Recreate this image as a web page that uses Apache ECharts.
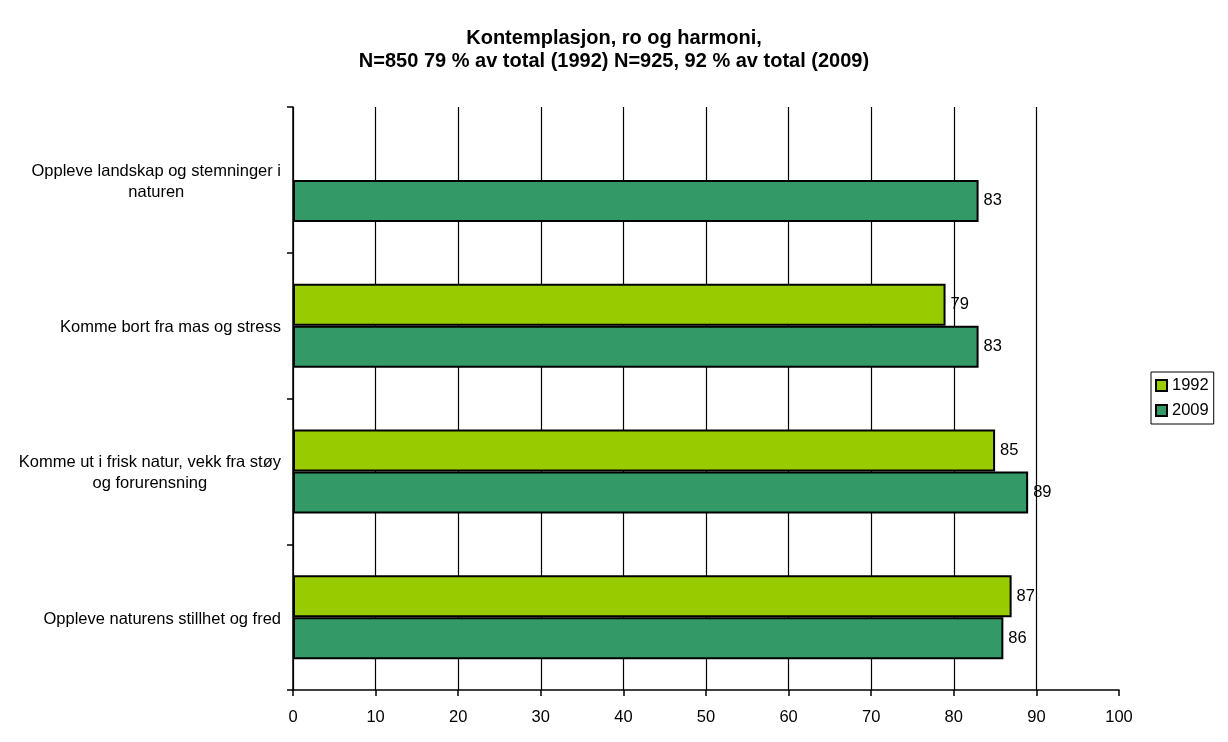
<!DOCTYPE html>
<html>
<head>
<meta charset="utf-8">
<script src="https://cdn.jsdelivr.net/npm/echarts@6/dist/echarts.min.js"></script>
<style>
html,body{margin:0;padding:0;background:#fff;}
#chart{width:1228px;height:742px;}
</style>
</head>
<body>
<div id="chart"></div>
<script>
const categories = [
  "Oppleve landskap og stemninger i\nnaturen",
  "Komme bort fra mas og stress",
  "Komme ut i frisk natur, vekk fra støy\nog forurensning",
  "Oppleve naturens stillhet og fred"
];
const values1992 = [null, 79, 85, 87];
const values2009 = [83, 83, 89, 86];
const seriesNames = ["1992", "2009"];
const xTicks = [0, 10, 20, 30, 40, 50, 60, 70, 80, 90, 100];

const chart = echarts.init(document.getElementById('chart'), null, {renderer: 'canvas'});
const font = 'Arial, "Liberation Sans", sans-serif';
const fs = 16.5;
const labelStyle = {show: true, position: 'right', distance: 5, color: '#000', fontSize: fs, fontFamily: font, padding: [3, 0, 0, 0]};

chart.setOption({
  animation: false,
  backgroundColor: '#fff',
  title: {
    text: "Kontemplasjon, ro og harmoni,\nN=850 79 % av total (1992) N=925, 92 % av total (2009)",
    left: 'center',
    top: 22,
    textStyle: {fontSize: 20, fontWeight: 'bold', color: '#000', fontFamily: font, lineHeight: 23}
  },
  legend: {
    orient: 'vertical',
    left: 1151,
    top: 372,
    data: seriesNames,
    itemWidth: 11,
    itemHeight: 11,
    itemGap: 8,
    borderColor: '#000',
    borderWidth: 1,
    borderRadius: 0,
    padding: [5, 5, 5, 4],
    textStyle: {fontSize: fs, color: '#000', fontFamily: font},
    icon: 'rect'
  },
  grid: {left: 293, right: 109, top: 107, bottom: 52, containLabel: false},
  xAxis: {
    type: 'value',
    min: xTicks[0],
    max: xTicks[xTicks.length - 1],
    interval: 10,
    axisLine: {show: true, lineStyle: {color: '#000', width: 1.5}},
    axisTick: {show: true, length: 6, lineStyle: {color: '#000', width: 1.5}},
    axisLabel: {fontSize: fs, color: '#000', fontFamily: font, margin: 19},
    splitLine: {show: true, showMaxLine: false, lineStyle: {color: '#000', width: 1.2}}
  },
  yAxis: {
    type: 'category',
    inverse: true,
    data: categories,
    axisLine: {show: true, lineStyle: {color: '#000', width: 1.5}},
    axisTick: {show: true, length: 6, lineStyle: {color: '#000', width: 1.5}},
    axisLabel: {
      fontSize: fs, color: '#000', fontFamily: font, margin: 12, align: 'right', lineHeight: 21,
      padding: [4, 0, 0, 0],
      formatter: function (v) { return v.split('\n').map(function (s) { return '{c|' + s + '}'; }).join('\n'); },
      rich: {c: {align: 'center', fontSize: fs, color: '#000', fontFamily: font, lineHeight: 21}}
    },
    splitLine: {show: false}
  },
  series: [
    {
      name: seriesNames[0], type: 'bar', data: values1992,
      barWidth: 42, barGap: '0%',
      itemStyle: {color: '#99CC00', borderColor: '#000', borderWidth: 2},
      label: labelStyle
    },
    {
      name: seriesNames[1], type: 'bar', data: values2009,
      barWidth: 42, barGap: '0%',
      itemStyle: {color: '#339966', borderColor: '#000', borderWidth: 2},
      label: labelStyle
    }
  ]
});
</script>
</body>
</html>
